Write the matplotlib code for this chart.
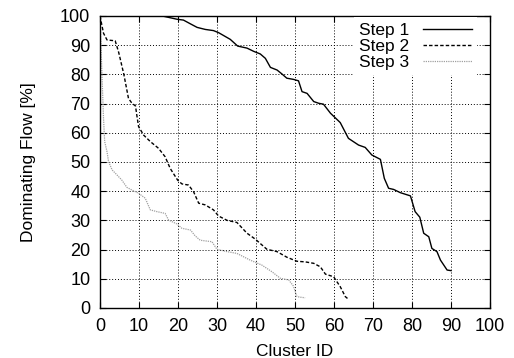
import matplotlib
matplotlib.use('Agg')
import matplotlib.pyplot as plt

plt.rcParams['font.family'] = ['Liberation Sans', 'DejaVu Sans']

# --- data ---
step1_x = [0, 16, 19.7, 21.4, 23.2, 24.9, 27, 29.1, 30.4, 33.4, 35.3, 37.7, 39.4, 41.1,
           42.4, 43.7, 45.4, 46.7, 47.9, 49.6, 50.9, 51.8, 53.1, 54.8, 56.1, 57.3, 59.1,
           61.6, 63.7, 66.3, 68.0, 69.7, 71.9, 72.9, 74, 75.3, 77, 79.6, 80.8, 82, 83,
           84.3, 85.1, 86.4, 87.3, 89, 90]
step1_y = [100, 100, 98.9, 98.6, 97.3, 96.1, 95.4, 95, 94.3, 92, 89.7, 89, 87.9, 87,
           85.5, 82.4, 81.5, 80.1, 78.7, 78.3, 77.8, 74.1, 73.5, 70.7, 70.1, 69.8, 66.7,
           63.5, 58.1, 55.8, 55.0, 52.4, 50.9, 44.4, 41, 40.6, 39.5, 38.4, 33, 31.1, 25.6,
           24.4, 20.4, 19.3, 16.4, 13, 12.8]

step2_x = [0, 0.9, 1.8, 3.9, 4.8, 6.1, 7.3, 8.2, 9.1, 9.5, 9.9, 11.2, 12.9, 15, 16.7,
           18, 19.9, 21, 22.7, 24, 25.3, 27, 29.1, 30.4, 32.6, 35.1, 37.7, 39.8, 42.8,
           45.4, 47.9, 50.5, 52.6, 54.8, 56.5, 57.8, 59.9, 61.6, 62.9, 63.7]
step2_y = [100, 94.1, 91.8, 91.5, 87.5, 80.1, 71.8, 70.1, 69.2, 65.5, 62.1, 59.2, 57,
           54.7, 51.8, 47.8, 43.8, 42.5, 42.1, 39.8, 35.9, 35.3, 33.6, 31.5, 30, 29.3,
           25.6, 23.6, 20.1, 19.3, 17.4, 16.0, 15.8, 15.3, 14.1, 11.6, 10.7, 7.3, 3.9, 3.0]

step3_x = [0, 0.5, 0.9, 1.2, 1.8, 2.2, 3.1, 4.4, 5.6, 6.9, 8.2, 9.9, 11.6, 12.9, 14.6,
           16.7, 17.6, 19.7, 21, 23.2, 24.4, 25.7, 28.7, 30, 32.6, 35.1, 38.5, 41.5,
           44.1, 46.2, 48.4, 49.6, 50.5, 51.4, 52.6]
step3_y = [100, 80, 65, 57, 53.5, 50.1, 47.3, 45.5, 43.8, 41.3, 40.4, 39.3, 37.6, 33.6,
           33, 32.4, 30.1, 28.8, 27.3, 26.7, 24.7, 23.2, 22.7, 20.1, 19.3, 18.7, 16.4,
           14.7, 12.4, 10.2, 9.6, 7.5, 3.9, 3.7, 3.5]

ticks = list(range(0, 101, 10))

fig = plt.figure(figsize=(5.14, 3.58), dpi=100)
ax = fig.add_axes([100 / 514, 50 / 358, 390 / 514, 292 / 358])

ax.plot(step1_x, step1_y, color='black', lw=1.0, label='Step 1')
ax.plot(step2_x, step2_y, color='black', lw=1.0, linestyle=(0, (2.5, 1.5)), label='Step 2')
ax.plot(step3_x, step3_y, color='#a0a0a0', lw=0.9, linestyle=(0, (1, 0.8)), label='Step 3')

ax.set_xlim(0, 100)
ax.set_ylim(0, 100)
ax.set_xticks(ticks)
ax.set_yticks(ticks)
ax.grid(True, color='black', linestyle=(0, (1, 2)), linewidth=0.7)
ax.tick_params(direction='in', length=4, width=0.8, top=True, right=True,
               labelsize=13, pad=7)
for s in ax.spines.values():
    s.set_linewidth(1.0)

ax.set_xlabel('Cluster ID', fontsize=12.5, labelpad=7)
ax.set_ylabel('Dominating Flow [%]', fontsize=12.5, labelpad=17)

leg = ax.legend(loc='upper right', bbox_to_anchor=(0.966, 0.995), markerfirst=False,
                fontsize=12.5, handlelength=2.8, handletextpad=0.8, labelspacing=0.05,
                borderpad=0.3, borderaxespad=0, frameon=True, fancybox=False,
                framealpha=1)
leg.get_frame().set_edgecolor('white')
leg.get_frame().set_linewidth(0)

fig.savefig('out.png', dpi=100)
